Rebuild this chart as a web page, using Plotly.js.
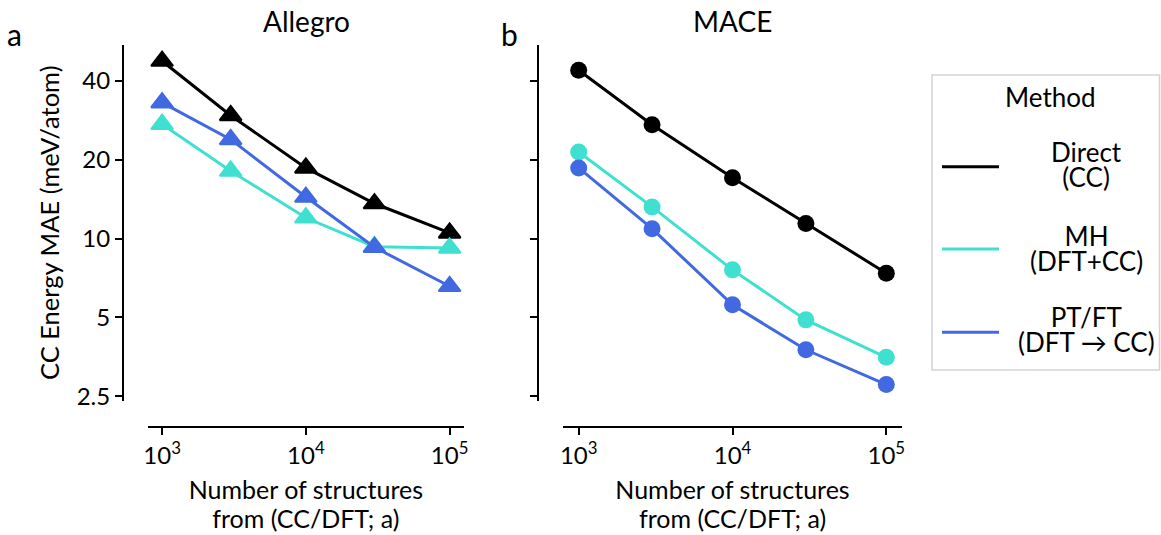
<!DOCTYPE html>
<html>
<head>
<meta charset="utf-8">
<script src="https://cdn.plot.ly/plotly-3.0.1.min.js"></script>
<style>html,body{margin:0;padding:0;background:#fff;}#chart{width:1161px;height:535px;}</style>
</head>
<body>
<div id="chart"></div>
<script>
// ---- data ----
const structures = [1000, 3000, 10000, 30000, 100000];
const methodNames = ["Direct (CC)", "MH (DFT+CC)", "PT/FT (DFT → CC)"];
const methodLine1 = ["Direct", "MH", "PT/FT"];
const methodLine2 = ["(CC)", "(DFT+CC)", "(DFT → CC)"];
const methodColors = ["#000000", "#40E0D0", "#4169E1"];
const allegroDirect = [47.6, 29.5, 18.6, 13.6, 10.5];
const allegroMH     = [27.3, 18.1, 12.0, 9.3, 9.2];
const allegroPTFT   = [33.0, 23.9, 14.4, 9.26, 6.57];
const maceDirect = [43.9, 27.2, 17.06, 11.4, 7.37];
const maceMH     = [21.4, 13.2, 7.59, 4.89, 3.52];
const macePTFT   = [18.6, 10.9, 5.58, 3.76, 2.77];
const xTickVals = [1000, 10000, 100000];
const xTickText = ["10<sup>3</sup>", "10<sup>4</sup>", "10<sup>5</sup>"];
const yTickVals = [2.5, 5, 10, 20, 40];
const yTickText = ["2.5", "5", "10", "20", "40"];
const panelTitles = ["Allegro", "MACE"];
const panelLetters = ["a", "b"];
const xTitleLines = ["Number of structures", "from (CC/DFT; a)"];

// ---- layout helpers (px -> paper) ----
const W = 1161, H = 535;
const px = v => v / W;
const py = v => 1 - v / H;
const FONT = "Lato, 'Open Sans', sans-serif";
// text with a tighter line spacing: outer font size sets the spacing, inner span the glyph size
const tight = (lines, size) => lines.map(t => '<span style="font-size:' + size + 'px">' + t + '</span>').join("<br>");

function series(yvals, i, xa, ya, symbol, size) {
  return {
    x: structures, y: yvals, xaxis: xa, yaxis: ya,
    type: "scatter", mode: "lines+markers", name: methodNames[i],
    line: {color: methodColors[i], width: 3},
    marker: {color: methodColors[i], symbol: symbol, size: size,
             line: {color: methodColors[i], width: symbol === "triangle-up" ? 2 : 0}},
    cliponaxis: false, showlegend: false
  };
}

const traces = [
  series(allegroDirect, 0, "x", "y", "triangle-up", 19),
  series(allegroMH, 1, "x", "y", "triangle-up", 19),
  series(allegroPTFT, 2, "x", "y", "triangle-up", 19),
  series(maceDirect, 0, "x2", "y2", "circle", 17),
  series(maceMH, 1, "x2", "y2", "circle", 17),
  series(macePTFT, 2, "x2", "y2", "circle", 17)
];

const xRange = [2.9, 5.1];
const yRange = [Math.log10(2.407), Math.log10(54.8)];

function xAxis(d0, d1) {
  return {
    type: "log", range: xRange, domain: [px(d0), px(d1)],
    anchor: "free", position: py(427),
    showline: true, linecolor: "#000", linewidth: 2,
    ticks: "outside", ticklen: 7, tickwidth: 2, tickcolor: "#000",
    tickmode: "array", tickvals: xTickVals, ticktext: xTickText,
    tickfont: {family: FONT, size: 24, color: "#000"},
    showgrid: false, zeroline: false, automargin: false,
    title: {text: tight(xTitleLines, 25), font: {family: FONT, size: 22.3, color: "#000"}, standoff: 15}
  };
}
function yAxis(pos, labels) {
  return {
    type: "log", range: yRange, domain: [py(400.5), py(45)],
    anchor: "free", position: px(pos),
    showline: true, linecolor: "#000", linewidth: 2,
    ticks: "outside", ticklen: 7, tickwidth: 2, tickcolor: "#000",
    tickmode: "array", tickvals: yTickVals, ticktext: yTickText,
    showticklabels: labels,
    tickfont: {family: FONT, size: 24, color: "#000"},
    showgrid: false, zeroline: false, automargin: false
  };
}

const annotations = [];
const shapes = [];
// panel titles + letters
const panelCenters = [306, 732.5];
const letterPos = [[14, 34], [509, 34]];
for (let i = 0; i < 2; i++) {
  annotations.push({text: panelTitles[i], xref: "paper", yref: "paper",
    x: px(panelCenters[i]), y: py(21), xanchor: "center", yanchor: "middle",
    showarrow: false, font: {family: FONT, size: 28, color: "#000"}});
  annotations.push({text: panelLetters[i], xref: "paper", yref: "paper",
    x: px(letterPos[i][0]), y: py(letterPos[i][1]), xanchor: "center", yanchor: "middle",
    showarrow: false, font: {family: FONT, size: 30, color: "#000"}});
}
// y axis title
annotations.push({text: "CC Energy MAE (meV/atom)", xref: "paper", yref: "paper",
  x: px(49), y: py(223), textangle: -90, xanchor: "center", yanchor: "middle",
  showarrow: false, font: {family: FONT, size: 25.5, color: "#000"}});

// legend (drawn manually to centre the two-line labels)
shapes.push({type: "rect", xref: "paper", yref: "paper",
  x0: px(932), x1: px(1159.5), y0: py(75), y1: py(370),
  line: {color: "#d3d3d3", width: 1.5}, fillcolor: "rgba(255,255,255,0.8)"});
annotations.push({text: "Method", xref: "paper", yref: "paper",
  x: px(1050), y: py(97), xanchor: "center", yanchor: "middle", showarrow: false,
  font: {family: FONT, size: 26, color: "#000"}});
const legendY = [166.7, 249, 332.3];
const legendTextY = [164.5, 248.5, 329];
for (let i = 0; i < 3; i++) {
  shapes.push({type: "line", xref: "paper", yref: "paper",
    x0: px(942), x1: px(999), y0: py(legendY[i]), y1: py(legendY[i]),
    line: {color: methodColors[i], width: 3}});
  annotations.push({text: tight([methodLine1[i], methodLine2[i]], 26), xref: "paper", yref: "paper",
    x: px(1086), y: py(legendTextY[i]), xanchor: "center", yanchor: "middle", align: "center",
    showarrow: false, font: {family: FONT, size: 19.3, color: "#000"}});
}

const layout = {
  width: W, height: H,
  margin: {l: 0, r: 0, t: 0, b: 0, pad: 0},
  paper_bgcolor: "#fff", plot_bgcolor: "rgba(0,0,0,0)",
  font: {family: FONT, size: 24, color: "#000"},
  showlegend: false,
  xaxis: xAxis(147.7, 464),
  xaxis2: xAxis(563.3, 901.7),
  yaxis: yAxis(123, true),
  yaxis2: yAxis(538.3, false),
  annotations: annotations, shapes: shapes
};

Plotly.newPlot("chart", traces, layout, {displayModeBar: false, staticPlot: true});
</script>
</body>
</html>
